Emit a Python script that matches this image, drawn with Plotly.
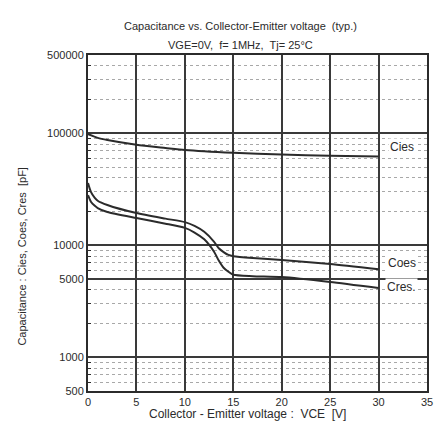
import math
import plotly.graph_objects as go

# Collector-emitter voltage (V) and typical capacitances (pF)
vce_cies = [0, 1, 2, 5, 8, 10, 15, 20, 25, 30]
cies = [98000, 91000, 87000, 79000, 74000, 71000, 67000, 64500, 63000, 62000]

vce_oc = [0, 0.3, 0.7, 1, 2, 5, 8, 10, 11, 12, 13, 13.5, 14, 14.5, 15, 17, 20, 25, 30]
coes = [36000, 30000, 26500, 25000, 22900, 19400, 17300, 16100, 14900, 13200, 10800, 9400, 8700, 8200, 8000, 7700, 7400, 6800, 6100]
cres = [28000, 24500, 22500, 21500, 19800, 17500, 15600, 14300, 13000, 11300, 8800, 7300, 6300, 5800, 5450, 5300, 5200, 4700, 4150]

x_ticks = [0, 5, 10, 15, 20, 25, 30, 35]
y_ticks = [500, 1000, 5000, 10000, 100000, 500000]
y_ticktext = ["500", "1000", "5000", "10000", "100000", "500000"]
y_minor = [600, 700, 800, 900, 2000, 3000, 4000, 6000, 7000, 8000, 9000,
           20000, 30000, 40000, 50000, 60000, 70000, 80000, 90000,
           200000, 300000, 400000]

curve_names = ["Cies", "Coes", "Cres."]
label_pos = [76000, 6900, 4250]

ink = "#2b2b2b"
font = "Liberation Sans, Arial, sans-serif"

fig = go.Figure()
for xs, ys in [(vce_cies, cies), (vce_oc, coes), (vce_oc, cres)]:
    fig.add_trace(go.Scatter(x=xs, y=ys, mode="lines",
                             line=dict(color=ink, width=2, shape="spline", smoothing=0.6),
                             showlegend=False, hoverinfo="skip"))

# curve names at the right edge (log axis: annotation y in log10 units)
for name, yv in zip(curve_names, label_pos):
    fig.add_annotation(x=32.4, y=math.log10(yv), xref="x", yref="y", text=name,
                       showarrow=False, font=dict(family=font, size=12, color=ink),
                       bgcolor="white", borderpad=1)

fig.add_annotation(text="Capacitance vs. Collector-Emitter voltage  (typ.)",
                   xref="paper", yref="paper", x=0.45, y=1.0, yshift=37,
                   showarrow=False, font=dict(family=font, size=11, color=ink))
fig.add_annotation(text="VGE=0V,  f= 1MHz,  Tj= 25°C",
                   xref="paper", yref="paper", x=0.45, y=1.0, yshift=18,
                   showarrow=False, font=dict(family=font, size=11, color=ink))
fig.add_annotation(text="Capacitance : Cies, Coes, Cres  [pF]",
                   xref="paper", yref="paper", x=0, xshift=-74, y=0.4,
                   textangle=-90, showarrow=False,
                   font=dict(family=font, size=11, color=ink))
fig.add_annotation(text="Collector - Emitter voltage :  VCE  [V]",
                   xref="paper", yref="paper", x=0.47, y=0, yshift=-32,
                   showarrow=False, font=dict(family=font, size=12, color=ink))

fig.update_xaxes(range=[0, 35], tickvals=x_ticks, showgrid=True,
                 gridcolor="#3a3a3a", gridwidth=1.5, zeroline=False,
                 showline=True, mirror=True, linecolor=ink, linewidth=2,
                 ticks="", tickfont=dict(family=font, size=11, color=ink))
fig.update_yaxes(type="log", range=[2.69897, 5.69897], tickvals=y_ticks,
                 ticktext=y_ticktext, showgrid=True, gridcolor="#3a3a3a",
                 gridwidth=1.5, zeroline=False, showline=True, mirror=True,
                 linecolor=ink, linewidth=2, ticks="",
                 tickfont=dict(family=font, size=11, color=ink),
                 minor=dict(tickvals=y_minor, showgrid=True, gridcolor="#a8a8a8",
                            griddash="dot", gridwidth=1, ticks="inside",
                            ticklen=3, tickcolor=ink))

fig.update_layout(width=441, height=433,
                  margin=dict(l=88, r=8, t=55, b=42),
                  paper_bgcolor="white", plot_bgcolor="white",
                  showlegend=False)

fig.write_html("out.html")
